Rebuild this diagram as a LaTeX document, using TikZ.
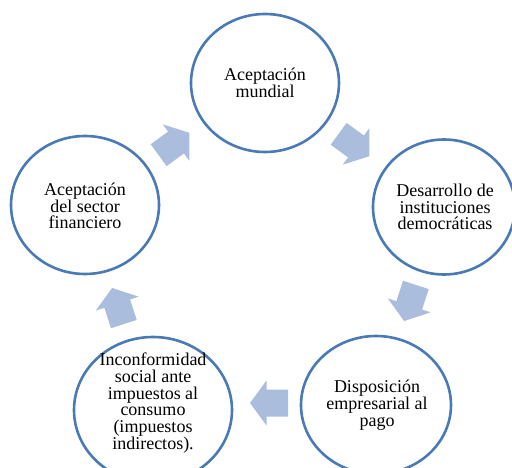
\documentclass[tikz,border=0pt]{standalone}
\usepackage{fontspec}
\setmainfont{Liberation Serif}
\usetikzlibrary{shapes.geometric}
\definecolor{ringblue}{RGB}{74,122,182}
\definecolor{arrowfill}{RGB}{170,189,220}
\begin{document}
\begin{tikzpicture}[x=1pt,y=-1pt,
  ring/.style={ellipse, draw=ringblue, line width=2.6pt, fill=white, inner sep=0pt},
  txt/.style={align=center, inner sep=0pt, font=\fontsize{18pt}{16.8pt}\selectfont},
  blockarrow/.pic={\fill[arrowfill] (-19,-13.5) -- (2.5,-13.5) -- (2.5,-22.5) -- (19,0) -- (2.5,22.5) -- (2.5,13.5) -- (-19,13.5) -- cycle;}]
\useasboundingbox (0,0) rectangle (512,468);
\clip (0,0) rectangle (512,468);
% circles
\node[ring, minimum width=148pt, minimum height=138pt] (c1) at (265,83) {};
\node[ring, minimum width=142pt, minimum height=135pt] (c2) at (444,207) {};
\node[ring, minimum width=150pt, minimum height=138pt] (c3) at (376,405) {};
\node[ring, minimum width=158pt, minimum height=146pt] (c4) at (153,410) {};
\node[ring, minimum width=148pt, minimum height=138pt] (c5) at (85,205) {};
% texts
\node[txt] (t1) at (265,83) {Aceptación\\mundial};
\node[txt] (t2) at (445,207) {Desarrollo de\\instituciones\\democráticas};
\node[txt] (t3) at (377,405) {Disposición\\empresarial al\\pago};
\node[txt] (t4) at (153,403) {Inconformidad\\social ante\\impuestos al\\consumo\\(impuestos\\indirectos).};
\node[txt] (t5) at (85,206) {Aceptación\\del sector\\financiero};
% block arrows
\pic[rotate=36] at (174,144) {blockarrow};
\pic[rotate=-36] at (354,145) {blockarrow};
\pic[rotate=-108] at (410,303) {blockarrow};
\pic[rotate=180] at (269,403) {blockarrow};
\pic[rotate=108] at (118,306) {blockarrow};
\end{tikzpicture}
\end{document}
